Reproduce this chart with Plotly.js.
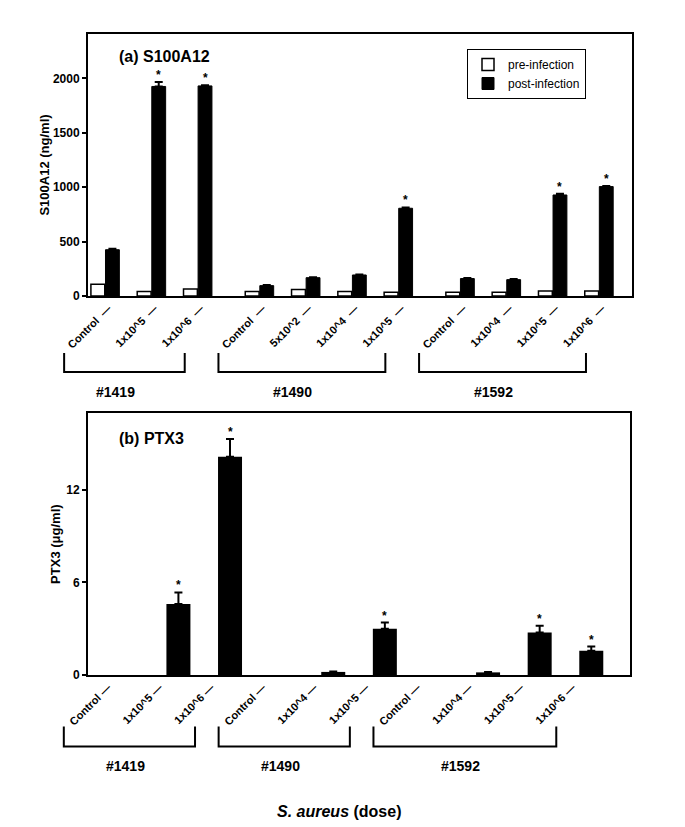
<!DOCTYPE html>
<html>
<head>
<meta charset="utf-8">
<script src="https://cdn.plot.ly/plotly-3.0.1.min.js"></script>
<style>html,body{margin:0;padding:0;background:#fff;}#chart{width:685px;height:827px;}</style>
</head>
<body>
<div id="chart"></div>
<script>
// ---------- DATA ----------
const groups = ['#1419', '#1490', '#1592'];

// Panel (a) S100A12 (ng/ml)
const dosesA = [['Control', '1x10^5', '1x10^6'],
                ['Control', '5x10^2', '1x10^4', '1x10^5'],
                ['Control', '1x10^4', '1x10^5', '1x10^6']];
const preA     = [[107, 40, 65], [40, 60, 40, 35], [35, 35, 45, 45]];
const postA    = [[425, 1925, 1930], [95, 168, 193, 806], [160, 150, 928, 1005]];
const postErrA = [[8, 40, 5], [5, 5, 5, 8], [6, 5, 12, 6]];
const sigA     = [[0, 1, 1], [0, 0, 0, 1], [0, 0, 1, 1]];

// Panel (b) PTX3 (ug/ml)
const dosesB = [['Control', '1x10^5', '1x10^6'],
                ['Control', '1x10^4', '1x10^5'],
                ['Control', '1x10^4', '1x10^5', '1x10^6']];
const postB    = [[0, 4.6, 14.15], [0, 0.2, 3.0], [0, 0.17, 2.75, 1.58]];
const postErrB = [[0, 0.75, 1.15], [0, 0.03, 0.4], [0, 0.02, 0.45, 0.26]];
const sigB     = [[0, 1, 1], [0, 0, 1], [0, 0, 1, 1]];

const legendNames = ['pre-infection', 'post-infection'];
const yTitleA = 'S100A12 (ng/ml)';
const yTitleB = 'PTX3 (\u03bcg/ml)';
const panelTitles = ['(a) S100A12', '(b) PTX3'];
const xTitle = '<i>S. aureus</i> (dose)';

// ---------- LAYOUT GEOMETRY ----------
const M = {l: 88, r: 53, t: 34, b: 152};
const W = 685, H = 827;
const PW = W - M.l - M.r, PH = H - M.t - M.b;
const rangeA = [-0.37, 11.38], rangeB = [-0.752, 9.75];
const domXB = [0, 0.9963];
const domYA = [0.5913, 1], domYB = [0, 0.4083];
const groupGapA = 1/3, groupGapB = 0;

function positions(doses, gap) {
  const out = []; let p = 0;
  doses.forEach((g) => { const arr = []; g.forEach(() => { arr.push(p); p += 1; }); p += gap; out.push(arr); });
  return out;
}
const posA = positions(dosesA, groupGapA);
const posB = positions(dosesB, groupGapB);
const flat = a => [].concat(...a);

const pxX = (d, r, dom) => M.l + PW * (dom[0] + (d - r[0]) / (r[1] - r[0]) * (dom[1] - dom[0]));
const paperX = px => (px - M.l) / PW;
const paperY = py => (H - M.b - py) / PH;
const unitA = PW / (rangeA[1] - rangeA[0]);
const unitB = PW * (domXB[1] - domXB[0]) / (rangeB[1] - rangeB[0]);

// label anchors (px offsets from category position)
const labOffA = 3 / unitA, labOffB = -19 / unitB;

const fontBold = 'Liberation Sans Narrow, Arial Narrow, Liberation Sans, Arial, sans-serif';
const fontMain = 'Liberation Sans, Arial, sans-serif';

// zero values (no measurable level) are drawn as no bar
const noZero = vals => flat(vals).map(v => v > 0 ? v : null);

// ---------- TRACES ----------
const traces = [
  {type: 'bar', name: legendNames[0], x: flat(posA), y: flat(preA), xaxis: 'x', yaxis: 'y',
   marker: {color: '#ffffff', line: {color: '#000', width: 1.5}}},
  {type: 'bar', name: legendNames[1], x: flat(posA), y: flat(postA), xaxis: 'x', yaxis: 'y',
   marker: {color: '#000000', line: {color: '#000', width: 1}},
   error_y: {type: 'data', symmetric: false, array: flat(postErrA), arrayminus: flat(postErrA).map(() => 0),
             color: '#000', thickness: 2, width: 4}},
  {type: 'bar', name: legendNames[1], showlegend: false, x: flat(posB), y: noZero(postB), xaxis: 'x2', yaxis: 'y2',
   width: 0.465, offset: -0.2325,
   marker: {color: '#000000', line: {color: '#000', width: 0}},
   error_y: {type: 'data', symmetric: false, array: flat(postErrB), arrayminus: flat(postErrB).map(() => 0),
             color: '#000', thickness: 2, width: 4}}
];

// ---------- ANNOTATIONS & SHAPES ----------
const annotations = [];
const shapes = [];

// asterisks
const barHalfA = (1 - 0.37) / 4;
flat(sigA).forEach((s, i) => {
  if (!s) return;
  annotations.push({xref: 'x', yref: 'y', x: flat(posA)[i] + barHalfA, y: flat(postA)[i] + flat(postErrA)[i],
    text: '*', showarrow: false, yanchor: 'bottom', yshift: -2, font: {family: fontMain, size: 12, color: '#000', weight: 700}});
});
flat(sigB).forEach((s, i) => {
  if (!s) return;
  annotations.push({xref: 'x2', yref: 'y2', x: flat(posB)[i], y: flat(postB)[i] + flat(postErrB)[i],
    text: '*', showarrow: false, yanchor: 'bottom', yshift: -2, font: {family: fontMain, size: 12, color: '#000', weight: 700}});
});

// brackets & group labels
function brackets(pos, r, dom, leftOff, rightOff, axisPx, topOff, botOff, labOffY, labOffX) {
  pos.forEach((g, gi) => {
    const leftPx = pxX(g[0], r, dom) + leftOff;
    const rightPx = pxX(g[g.length - 1], r, dom) + rightOff;
    const yTop = paperY(axisPx + topOff), yBot = paperY(axisPx + botOff);
    shapes.push({type: 'path', xref: 'paper', yref: 'paper',
      path: `M${paperX(leftPx)},${yTop} L${paperX(leftPx)},${yBot} L${paperX(rightPx)},${yBot} L${paperX(rightPx)},${yTop}`,
      line: {color: '#000', width: 2}});
    annotations.push({xref: 'paper', yref: 'paper', x: paperX((leftPx + rightPx) / 2 + labOffX), y: paperY(axisPx + labOffY),
      text: groups[gi], showarrow: false, xanchor: 'center', yanchor: 'middle',
      font: {family: fontBold, size: 14, color: '#000', weight: 700}});
  });
}
brackets(posA, rangeA, [0, 1], -41, -13, 296, 57, 76, 96, -9);
brackets(posB, rangeB, domXB, -63, -35, 675, 51.5, 71.5, 91, -4);

// panel titles
annotations.push({xref: 'paper', yref: 'paper', x: paperX(117), y: paperY(57), text: '<b>' + panelTitles[0] + '</b>',
  showarrow: false, xanchor: 'left', yanchor: 'middle', font: {family: fontMain, size: 16, color: '#000'}});
annotations.push({xref: 'paper', yref: 'paper', x: paperX(117), y: paperY(438), text: '<b>' + panelTitles[1] + '</b>',
  showarrow: false, xanchor: 'left', yanchor: 'middle', font: {family: fontMain, size: 16, color: '#000'}});
// x title
annotations.push({xref: 'paper', yref: 'paper', x: paperX(339), y: paperY(811), text: '<b>' + xTitle + '</b>',
  showarrow: false, xanchor: 'center', yanchor: 'middle', font: {family: fontMain, size: 16, color: '#000'}});

const tickFont = {family: fontBold, size: 12, color: '#000', weight: 700};
const xLabFont = {family: fontBold, size: 11, color: '#000', weight: 700};

const layout = {
  width: W, height: H, margin: M, paper_bgcolor: '#fff', plot_bgcolor: '#fff',
  barmode: 'group', bargap: 0.37, bargroupgap: 0.05,
  showlegend: true,
  legend: {x: paperX(467), y: paperY(49), xanchor: 'left', yanchor: 'top', bgcolor: '#fff',
    bordercolor: '#000', borderwidth: 1, font: {family: fontMain, size: 12, color: '#000'},
    tracegroupgap: 0, itemwidth: 30},
  xaxis: {domain: [0, 1], range: rangeA, anchor: 'y', showline: true, mirror: true, linecolor: '#000', linewidth: 2,
    showgrid: false, zeroline: false, ticks: '', tickmode: 'array',
    tickvals: flat(posA).map(p => p + labOffA), ticktext: flat(dosesA).map(t => t + '  \u2014'),
    tickangle: -45, tickfont: xLabFont},
  yaxis: {domain: domYA, range: [0, 2407], anchor: 'x', showline: true, mirror: true, linecolor: '#000', linewidth: 2,
    showgrid: false, zeroline: false, ticks: 'outside', ticklen: 4, tickwidth: 2, tickcolor: '#000', dtick: 500,
    tickfont: tickFont, title: {text: yTitleA, font: {family: fontMain, size: 13, color: '#000', weight: 700}, standoff: 0}},
  xaxis2: {domain: domXB, range: rangeB, anchor: 'y2', showline: true, mirror: true, linecolor: '#000', linewidth: 2,
    showgrid: false, zeroline: false, ticks: '', tickmode: 'array',
    tickvals: flat(posB).map(p => p + labOffB), ticktext: flat(dosesB).map(t => t + ' \u2014'),
    tickangle: -45, tickfont: xLabFont},
  yaxis2: {domain: domYB, range: [0, 16.97], anchor: 'x2', showline: true, mirror: true, linecolor: '#000', linewidth: 2,
    showgrid: false, zeroline: false, ticks: 'outside', ticklen: 4, tickwidth: 2, tickcolor: '#000', dtick: 6,
    tickfont: tickFont, title: {text: yTitleB, font: {family: fontMain, size: 13, color: '#000', weight: 700}, standoff: 3}},
  annotations: annotations, shapes: shapes
};

Plotly.newPlot('chart', traces, layout, {displayModeBar: false, staticPlot: true});
</script>
</body>
</html>
